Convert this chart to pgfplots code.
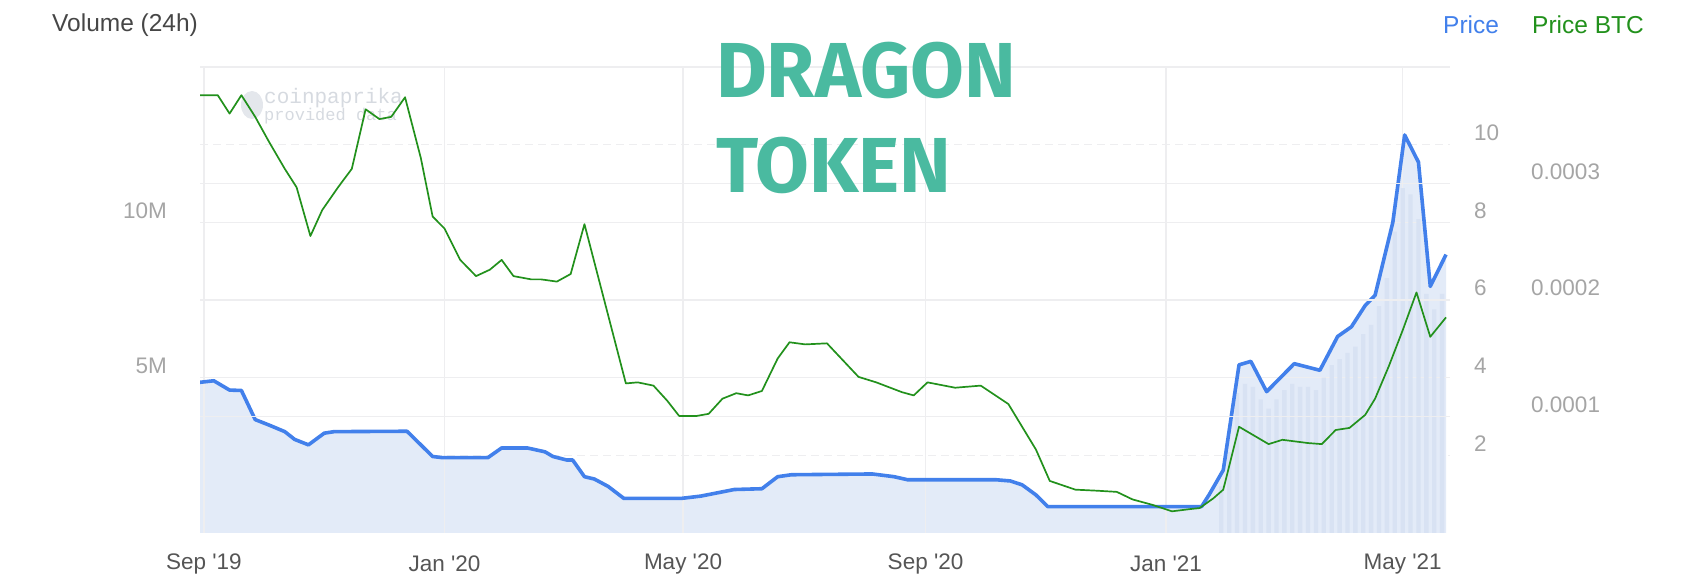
\documentclass[border=0pt]{standalone}
\usepackage{pgfplots}
\pgfplotsset{compat=1.18}
\usepackage{pgfplotstable}
\usepackage{fontspec}
\setmainfont{Liberation Sans}
\newfontfamily\titlefont{Fira Sans}
\newfontfamily\wmfont{Liberation Mono}
\definecolor{pblue}{RGB}{66,128,235}
\definecolor{pfill}{RGB}{227,235,248}
\definecolor{vbar}{RGB}{216,226,243}
\definecolor{pgreen}{RGB}{34,145,28}
\definecolor{tickgray}{RGB}{165,165,165}
\definecolor{xgray}{RGB}{85,85,85}
\definecolor{gridc}{RGB}{238,238,240}
\definecolor{dteal}{RGB}{74,186,160}
\definecolor{wm}{RGB}{214,218,224}
\definecolor{wmlogo}{RGB}{228,231,236}

\pgfplotstableread{
day price
-2 3.88
5 3.92
13 3.68
19 3.67
26 2.92
33 2.78
41 2.61
46 2.41
53 2.27
61 2.57
66 2.61
103 2.62
116 1.97
121 1.94
144 1.94
151 2.19
164 2.19
173 2.09
177 1.97
184 1.88
187 1.88
193 1.45
198 1.39
205 1.20
213 0.89
242 0.89
252 0.95
260 1.03
269 1.12
283 1.14
291 1.45
298 1.50
339 1.52
350 1.45
357 1.37
402 1.37
409 1.34
415 1.24
422 0.98
428 0.68
506 0.68
510 1.00
517 1.62
525 4.33
531 4.42
539 3.64
546 4.00
553 4.36
566 4.19
575 5.06
582 5.31
589 5.86
594 6.12
603 8.00
609 10.25
616 9.55
622 6.35
630 7.17
}\pricetable

\pgfplotstableread{
day btc
-2 3.758
7 3.758
13 3.600
19 3.758
26 3.572
33 3.358
41 3.126
47 2.967
54 2.549
60 2.772
68 2.967
75 3.126
82 3.637
89 3.553
95 3.572
102 3.740
110 3.219
116 2.716
122 2.614
130 2.344
138 2.205
145 2.260
151 2.344
157 2.205
166 2.177
171 2.177
179 2.158
186 2.223
193 2.651
214 1.284
220 1.293
228 1.265
235 1.135
241 1.005
250 1.005
256 1.023
263 1.153
270 1.200
276 1.181
283 1.219
291 1.498
297 1.637
305 1.619
316 1.628
332 1.340
341 1.293
354 1.209
360 1.181
367 1.293
381 1.247
394 1.265
408 1.107
422 0.716
429 0.447
442 0.372
453 0.363
463 0.353
471 0.288
481 0.242
491 0.186
500 0.205
505 0.214
512 0.298
517 0.372
525 0.912
540 0.763
547 0.800
560 0.772
567 0.763
574 0.884
581 0.902
589 1.014
594 1.153
601 1.433
608 1.740
615 2.065
622 1.684
630 1.851
}\btctable

\pgfplotstableread{
day vol
516 1.5
520 2.6
524 4.5
528 4.8
532 4.7
536 4.3
540 4.0
544 4.3
548 4.6
552 4.8
556 4.7
560 4.7
564 4.6
568 5.0
572 5.4
576 5.6
580 5.8
584 6.0
588 6.4
592 6.7
596 7.3
600 8.2
604 9.7
608 11.1
612 10.9
616 10.1
620 7.7
624 7.2
628 7.7
}\voltable

\pgfplotsset{
  base/.style={
    at={(200pt,53pt)}, anchor=south west,
    scale only axis, width=1250pt, height=466pt,
    xmin=-2, xmax=632,
    axis line style={draw=none},
    major tick length=0pt,
    tick style={draw=none},
    clip=true,
  },
}

\begin{document}
\begin{tikzpicture}
\useasboundingbox (0pt,0pt) rectangle (1692pt,586pt);

% watermark (behind everything)
\fill[wmlogo] (252pt,481pt) ellipse (11pt and 14pt);
\node[anchor=west, inner sep=0pt, text=wm, font=\wmfont\fontsize{21}{24}\selectfont] at (264pt,488pt) {coinpaprika};
\node[anchor=west, inner sep=0pt, text=wm, font=\wmfont\fontsize{17}{20}\selectfont] at (264pt,470pt) {provided data};

% price axis: dashed grid, right labels, area fill
\begin{axis}[base,
  ymin=0, ymax=12,
  ytick={2,4,6,8,10,12},
  yticklabels={2,4,6,8,10,},
  ymajorgrids, major grid style={gridc, line width=1.4pt, dash pattern=on 8pt off 5pt},
  ytick pos=right, yticklabel pos=right,
  yticklabel style={anchor=west, inner sep=0pt, xshift=24pt, yshift=12pt,
    text=tickgray, font=\fontsize{22.5}{26}\selectfont},
  xtick=\empty,
]
\addplot[fill=pfill, draw=none] table[x=day, y=price] {\pricetable} \closedcycle;
\end{axis}

% volume axis: bars, grid, left labels, x axis
\begin{axis}[base,
  ymin=0, ymax=15,
  ytick={5,10,15},
  yticklabels={5M,10M,},
  xtick={0,122,243,366,488,608},
  xticklabels={Sep \textquotesingle19, Jan \textquotesingle20, May \textquotesingle20, Sep \textquotesingle20, Jan \textquotesingle21, May \textquotesingle21},
  xmajorgrids, ymajorgrids,
  major grid style={gridc, line width=1.4pt},
  yticklabel style={anchor=east, inner sep=0pt, xshift=-33pt, yshift=12pt,
    text=tickgray, font=\fontsize{22.5}{26}\selectfont},
  xticklabel style={anchor=center, inner sep=0pt, yshift=-31pt,
    text=xgray, font=\fontsize{22.5}{26}\selectfont},
]
\addplot[ybar, bar width=2.2, fill=vbar, draw=none] table[x=day, y=vol] {\voltable};
\end{axis}

% price line
\begin{axis}[base,
  ymin=0, ymax=12,
  xtick=\empty, ytick=\empty,
]
\addplot[pblue, line width=3.6pt, line join=round] table[x=day, y=price] {\pricetable};
\end{axis}

% BTC axis
\begin{axis}[base,
  ymin=0, ymax=4,
  ytick={1,2,3,4},
  yticklabels={0.0001,0.0002,0.0003,},
  ymajorgrids, major grid style={gridc, line width=1.4pt},
  ytick pos=right, yticklabel pos=right,
  yticklabel style={anchor=west, inner sep=0pt, xshift=81pt, yshift=12pt,
    text=tickgray, font=\fontsize{22.5}{26}\selectfont},
  xtick=\empty,
]
\addplot[pgreen, line width=1.7pt, line join=round] table[x=day, y=btc] {\btctable};
\end{axis}

% header texts
\node[anchor=west, inner sep=0pt, text={rgb,255:red,70;green,70;blue,70}, font=\fontsize{24.5}{28}\selectfont] at (52pt,561pt) {Volume (24h)};
\node[anchor=west, inner sep=0pt, text=pblue, font=\fontsize{24.5}{28}\selectfont] at (1443pt,561pt) {Price};
\node[anchor=west, inner sep=0pt, text=pgreen, font=\fontsize{24.5}{28}\selectfont] at (1532pt,561pt) {Price BTC};

% title
\node[anchor=base west, inner sep=0pt, text=dteal, font=\titlefont\bfseries\fontsize{78}{80}\selectfont] at (716pt,488pt) {DRAGON};
\node[anchor=base west, inner sep=0pt, text=dteal, font=\titlefont\bfseries\fontsize{78}{80}\selectfont] at (716pt,393pt) {TOKEN};
\end{tikzpicture}
\end{document}
